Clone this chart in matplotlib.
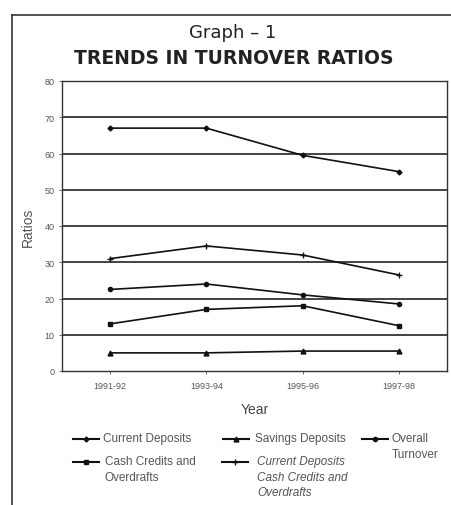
import matplotlib
matplotlib.use("Agg")
import matplotlib.pyplot as plt
from matplotlib.lines import Line2D

plt.rcParams['font.family'] = ['Liberation Sans', 'DejaVu Sans']

years = ['1991-92', '1993-94', '1995-96', '1997-98']
current_deposits = [67, 67, 59.5, 55]
savings_deposits = [5, 5, 5.5, 5.5]
overall_turnover = [22.5, 24, 21, 18.5]
cash_credits = [13, 17, 18, 12.5]
cd_and_cc = [31, 34.5, 32, 26.5]

series = [
    ('Current Deposits', current_deposits, 'D', 2.5, 'normal'),
    ('Savings Deposits', savings_deposits, '^', 3.5, 'normal'),
    ('Overall\nTurnover', overall_turnover, 'o', 3.0, 'normal'),
    ('Cash Credits and\nOverdrafts', cash_credits, 's', 3.5, 'normal'),
    ('Current Deposits\nCash Credits and\nOverdrafts', cd_and_cc, '+', 4.0, 'italic'),
]

W, H = 452, 506
fig = plt.figure(figsize=(W / 100, H / 100), dpi=100)

# page frame
fig.add_artist(Line2D([12 / W, 12 / W], [0, 1 - 16 / H], color='#333333', lw=1.2))
fig.add_artist(Line2D([12 / W, 1], [1 - 16 / H, 1 - 16 / H], color='#333333', lw=1.2))

ax = fig.add_axes([62 / W, 1 - 372 / H, 385 / W, 290 / H])
x = range(len(years))
for label, vals, mk, ms, _ in series:
    ax.plot(x, vals, color='#111111', lw=1.2, marker=mk, markersize=ms,
            markeredgewidth=1.0)

ax.set_xlim(-0.5, len(years) - 0.5)
ax.set_ylim(0, 80)
ax.set_yticks(range(0, 81, 10))
for yv in range(10, 80, 10):
    ax.axhline(yv, color='#222222', lw=1.2, zorder=0)
ax.set_xticks(list(x))
ax.set_xticklabels(years)
ax.tick_params(axis='both', labelsize=6.5, colors='#555555', length=2, width=0.6)
ax.tick_params(axis='x', pad=5)
for sp in ax.spines.values():
    sp.set_color('#333333')
    sp.set_linewidth(1.0)

ax.set_ylabel('Ratios', fontsize=10, color='#555555', labelpad=7)
ax.set_xlabel('Year', fontsize=10, color='#444444', labelpad=9)

fig.text(233 / W, 1 - 33 / H, 'Graph \u2013 1', ha='center', va='center',
         fontsize=13, color='#222222', family='DejaVu Sans')
fig.text(234 / W, 1 - 59 / H, 'TRENDS IN TURNOVER RATIOS', ha='center',
         va='center', fontsize=13.5, fontweight='bold', color='#222222',
         family='DejaVu Sans')

# legend drawn by hand in three columns
slots = [(73, 440, 103), (223, 440, 255), (362, 440, 392),
         (73, 463, 105), (222, 463, 257)]
for (label, vals, mk, ms, style), (lx, ly, tx) in zip(series, slots):
    fig.add_artist(Line2D([lx / W, (lx + 13) / W, (lx + 26) / W],
                          [1 - ly / H] * 3, color='#111111', lw=1.5,
                          marker=mk, markersize=ms, markevery=[1],
                          markeredgewidth=1.0))
    fig.text(tx / W, 1 - (ly - 7) / H, label, ha='left', va='top',
             fontsize=8.5, color='#555555', style=style, linespacing=1.4)

fig.savefig('out.png', dpi=100)
